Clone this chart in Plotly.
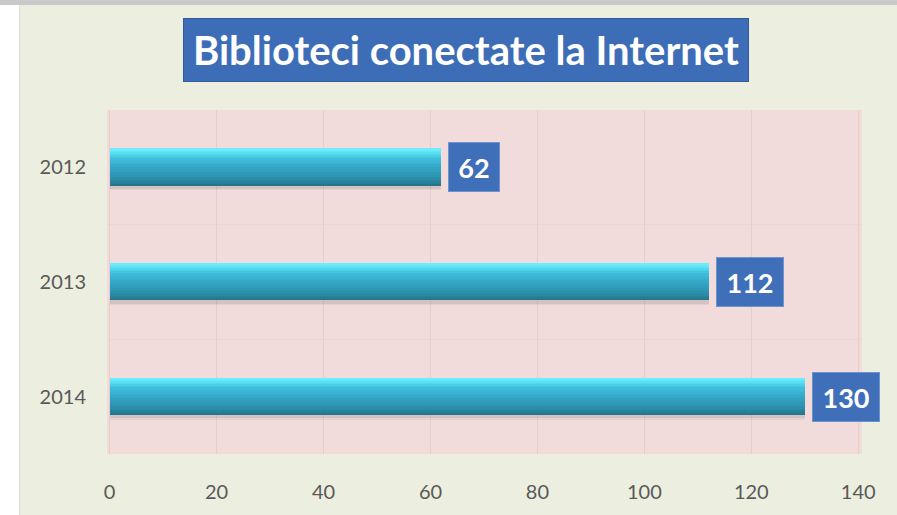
import plotly.graph_objects as go

years = ["2012", "2013", "2014"]
values = [62, 112, 130]
x_ticks = [0, 20, 40, 60, 80, 100, 120, 140]
title_text = "Biblioteci conectate la Internet"

PAGE_BG = "#ECEFDF"
PLOT_BG = "#F2DCDB"
LABEL_BLUE = "#3F6FB8"

pos = list(range(len(years)))
boundaries = [p + 0.5 for p in pos[:-1]]

# vertical shading stops for the bar (fraction from top, colour)
shade_stops = [
    (0.00, (110, 242, 255)),
    (0.10, (92, 225, 244)),
    (0.25, (64, 192, 222)),
    (0.50, (52, 167, 199)),
    (0.80, (44, 143, 171)),
    (1.00, (36, 116, 138)),
]


def shade(f):
    for (f0, c0), (f1, c1) in zip(shade_stops[:-1], shade_stops[1:]):
        if f0 <= f <= f1:
            t = (f - f0) / (f1 - f0) if f1 > f0 else 0
            return "rgb(%d,%d,%d)" % tuple(round(a + (b - a) * t) for a, b in zip(c0, c1))
    return "rgb(%d,%d,%d)" % shade_stops[-1][1]


BAR_W = 0.32
BAR_OFF = -0.16
N_STEPS = 24

fig = go.Figure()

# soft shadow
for w, a in [(0.35, 0.07), (0.34, 0.10)]:
    fig.add_trace(go.Bar(
        x=values, y=pos, orientation="h", width=w, offset=BAR_OFF + 0.01,
        marker=dict(color=f"rgba(70,70,70,{a})", line=dict(width=0)),
        hoverinfo="skip", showlegend=False,
    ))

# layered bars to give a cylinder-like shading (drawn bottom band first)
for i in range(N_STEPS, 0, -1):
    fig.add_trace(go.Bar(
        x=values, y=pos, orientation="h",
        width=BAR_W * i / N_STEPS, offset=BAR_OFF,
        marker=dict(color=shade((i - 0.5) / N_STEPS), line=dict(width=0)),
        hoverinfo="skip", showlegend=False,
    ))

# value labels in blue boxes
for p, v in zip(pos, values):
    s = str(v)
    fig.add_annotation(
        x=v, y=p, xref="x", yref="y", text=f"<b>{s}</b>",
        showarrow=False, xanchor="left", yanchor="middle", xshift=7,
        font=dict(family="Lato", size=27, color="white"),
        bgcolor=LABEL_BLUE, bordercolor="#6E93CF", borderwidth=1,
        borderpad=8, width=len(s) * 16 + 2, height=32,
    )

# title box
fig.add_annotation(
    x=0.475, y=1.174, xref="paper", yref="paper",
    text=f"<b>{title_text}</b>", showarrow=False,
    xanchor="center", yanchor="middle",
    font=dict(family="Lato", size=40, color="white"),
    bgcolor="#3D6DB6", bordercolor="#33599A", borderwidth=1,
    borderpad=6, width=552, height=50,
)

# white strip at left, grey band at top (page framing)
fig.add_shape(type="rect", xref="paper", yref="paper",
              x0=-0.2, x1=-0.1157, y0=-0.3, y1=1.4,
              fillcolor="white", line=dict(width=0), layer="below")
fig.add_shape(type="line", xref="paper", yref="paper",
              x0=-0.1157, x1=-0.1157, y0=-0.3, y1=1.4,
              line=dict(color="#DADDD0", width=1))
fig.add_shape(type="rect", xref="paper", yref="paper",
              x0=-0.2, x1=1.1, y0=1.305, y1=1.4,
              fillcolor="#C9C9C9", line=dict(width=0))

fig.update_layout(
    width=897, height=515,
    margin=dict(l=107, r=35, t=110, b=58),
    paper_bgcolor=PAGE_BG, plot_bgcolor=PLOT_BG,
    barmode="overlay", bargap=0,
    xaxis=dict(
        range=[-0.5, 140.7], tickvals=x_ticks,
        ticktext=[str(t) for t in x_ticks],
        showgrid=True, gridcolor="#E6CCCC", gridwidth=1,
        zeroline=False, showline=False,
        ticks="outside", ticklen=20, tickcolor="rgba(0,0,0,0)",
        tickfont=dict(family="Lato", size=20, color="#595959"),
        fixedrange=True,
    ),
    yaxis=dict(
        range=[len(years) - 0.5, -0.5],
        tickvals=pos, ticktext=years,
        showgrid=False,
        minor=dict(tickvals=boundaries, showgrid=True,
                   gridcolor="#EAD6D6", gridwidth=1, ticks=""),
        zeroline=False, showline=False,
        ticks="outside", ticklen=16, tickcolor="rgba(0,0,0,0)",
        tickfont=dict(family="Lato", size=20, color="#595959"),
        fixedrange=True,
    ),
)

fig.write_html(
    "out.html",
    config={"displayModeBar": False},
    post_script="document.body.style.margin='0';document.body.style.overflow='hidden';",
)
